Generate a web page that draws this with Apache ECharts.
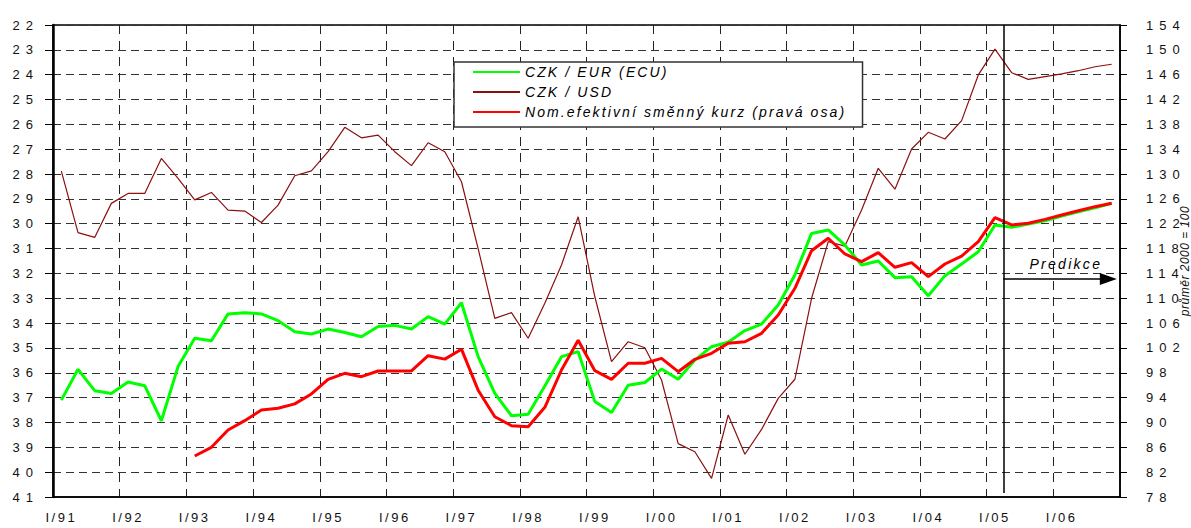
<!DOCTYPE html>
<html>
<head>
<meta charset="utf-8">
<script src="https://cdn.jsdelivr.net/npm/echarts@6/dist/echarts.min.js"></script>
<style>
html, body { margin: 0; padding: 0; background: #fff; }
#chart { width: 1191px; height: 528px; }
</style>
</head>
<body>
<div id="chart"></div>
<script>
// quarters 1991 - 2006
var years = ["91", "92", "93", "94", "95", "96", "97", "98", "99", "00", "01", "02", "03", "04", "05", "06"]
var quarterNames = ["I", "II", "III", "IV"]

var czkEur = [
    37.1, 35.86, 36.72, 36.83,
    36.37, 36.52, 37.93, 35.75,
    34.61, 34.71, 33.63, 33.58,
    33.63, 33.9, 34.35, 34.44,
    34.24, 34.38, 34.55, 34.14,
    34.09, 34.24, 33.74, 34.04,
    33.18, 35.35, 36.83, 37.73,
    37.67, 36.53, 35.35, 35.15,
    37.16, 37.6, 36.5, 36.39,
    35.85, 36.26, 35.49, 34.95,
    34.77, 34.3, 34.04, 33.27,
    32.06, 30.39, 30.25, 30.86,
    31.66, 31.5, 32.17, 32.13,
    32.9, 32.09, 31.62, 31.13,
    30.05, 30.14, 30.01, 29.88,
    29.69, 29.52, 29.36, 29.18
]
var czkUsd = [
    27.88, 30.36, 30.55, 29.18,
    28.78, 28.78, 27.37, 28.17,
    29.04, 28.74, 29.45, 29.49,
    29.95, 29.25, 28.07, 27.87,
    27.1, 26.12, 26.54, 26.43,
    27.1, 27.66, 26.74, 27.1,
    28.31, 31.0, 33.81, 33.58,
    34.61, 33.2, 31.66, 29.72,
    32.94, 35.55, 34.75, 34.99,
    36.29, 38.85, 39.18, 40.25,
    37.7, 39.28, 38.28, 37.03,
    36.26, 33.0, 30.72, 30.9,
    29.45, 27.77, 28.61, 26.99,
    26.32, 26.59, 25.85, 24.01,
    22.97, 23.92, 24.19, 24.08,
    23.97, 23.84, 23.68, 23.58
]
var neer = [
    null, null, null, null,
    null, null, null, null,
    84.6, 86.0, 88.79, 90.29,
    92.0, 92.28, 93.0, 94.59,
    96.95, 97.92, 97.37, 98.29,
    98.3, 98.3, 100.75, 100.2,
    101.8, 95.2, 90.93, 89.48,
    89.32, 92.44, 98.45, 103.25,
    98.34, 96.95, 99.53, 99.53,
    100.33, 98.18, 100.17, 101.14,
    102.75, 103.0, 104.36, 107.3,
    111.6, 117.66, 119.66, 117.13,
    115.9, 117.34, 114.99, 115.73,
    113.48, 115.52, 116.8, 119.11,
    122.98, 121.8, 122.07, 122.7,
    123.4, 124.1, 124.75, 125.3
]

var seriesNames = ["CZK / EUR (ECU)", "CZK / USD", "Nom.efektivní směnný kurz (pravá osa)"]
var rightAxisName = "průměr 2000 = 100"
var predLabel = "Predikce"
var predStart = 57      // boundary between I/05 and II/05 (quarter index)
var arrowEnd = 63.3
var arrowLevel = 113.1  // right axis

var categories = []
years.forEach(y => {
    quarterNames.forEach(q => categories.push(q + "/" + y))
})

var font = "'Liberation Sans', Arial, sans-serif"

var chart = echarts.init(document.getElementById("chart"), null, { renderer: "svg" })
chart.setOption({
    animation: false,
    grid: {
        left: 53, right: 71, top: 25, bottom: 31,
        outerBoundsMode: "none",
        show: true, borderColor: "#000", borderWidth: 1.5
    },
    legend: {
        data: seriesNames,
        orient: "vertical",
        left: 454, top: 62,
        backgroundColor: "#fff",
        borderColor: "#333", borderWidth: 1.5, borderRadius: 0,
        padding: [3, 94, 8, 18],
        itemWidth: 47, itemHeight: 14, itemGap: 6,
        itemStyle: { opacity: 0 },
        textStyle: { fontFamily: font, fontStyle: "italic", fontSize: 14, color: "#000" }
    },
    xAxis: [{
        type: "category",
        data: categories,
        boundaryGap: true,
        axisLine: { lineStyle: { color: "#000", width: 1.5 } },
        axisTick: { show: false },
        axisLabel: { interval: 3, margin: 14, fontFamily: font, fontSize: 13, color: "#111" },
        splitLine: { show: true, interval: 3, lineStyle: { color: "#222", type: [9, 7], width: 1 } }
    }, {
        type: "value", min: 0, max: 64, show: false
    }],
    yAxis: [{
        type: "value", inverse: true, min: 22, max: 41, interval: 1,
        axisLine: { show: true, lineStyle: { color: "#000", width: 2.5 } },
        axisTick: { show: true, length: 8, lineStyle: { color: "#000" } },
        axisLabel: { margin: 14, fontFamily: font, fontSize: 13, color: "#111" },
        splitLine: { show: true, lineStyle: { color: "#333", type: [8, 5], width: 1 } }
    }, {
        type: "value", min: 78, max: 154, interval: 4,
        name: rightAxisName, nameLocation: "middle", nameRotate: 90, nameGap: 55,
        nameTextStyle: { fontFamily: font, fontStyle: "italic", fontSize: 12, color: "#111" },
        axisLine: { show: true, lineStyle: { color: "#000", width: 1.5 } },
        axisTick: { show: true, length: 7, lineStyle: { color: "#000" } },
        axisLabel: { margin: 26, fontFamily: font, fontSize: 13, color: "#111" },
        splitLine: { show: false }
    }],
    series: [{
        name: seriesNames[1], type: "line", data: czkUsd,
        symbol: "none", lineStyle: { color: "#8b1010", width: 1.2 }, itemStyle: { color: "#8b1010" }
    }, {
        name: seriesNames[0], type: "line", data: czkEur,
        symbol: "none", lineStyle: { color: "#00ff00", width: 3 }, itemStyle: { color: "#00ff00" }
    }, {
        name: seriesNames[2], type: "line", data: neer, yAxisIndex: 1,
        symbol: "none", lineStyle: { color: "#ff0000", width: 3 }, itemStyle: { color: "#ff0000" }
    }, {
        type: "line", xAxisIndex: 1, yAxisIndex: 1, data: [],
        markLine: {
            silent: true,
            symbol: ["none", "none"],
            lineStyle: { color: "#000", width: 1.5, type: "solid" },
            label: { show: false },
            data: [
                [{ coord: [predStart, 78.64] }, { coord: [predStart, 154] }],
                [{
                    coord: [predStart, arrowLevel], symbol: "none",
                    label: {
                        show: true, formatter: predLabel, position: "insideMiddleTop", distance: 8,
                        padding: [0, 0, 0, 20],
                        fontFamily: font, fontStyle: "italic", fontSize: 14, color: "#000"
                    }
                }, { coord: [arrowEnd, arrowLevel], symbol: "triangle", symbolSize: [12, 17] }]
            ]
        }
    }]
})

function spaceTexts() {
    document.querySelectorAll("#chart text").forEach(t => {
        let s = t.textContent
        let ls = "0px"
        if (/^\d+$/.test(s)) ls = "6px"
        else if (/^[IV]+\//.test(s)) ls = "2.5px"
        else if (s == predLabel) ls = "2.3px"
        else if (seriesNames.indexOf(s) >= 0) ls = "2.1px"
        else if (s == rightAxisName) ls = "0.5px"
        t.style.letterSpacing = ls
    })
}
spaceTexts()
chart.on("finished", spaceTexts)
</script>
</body>
</html>
